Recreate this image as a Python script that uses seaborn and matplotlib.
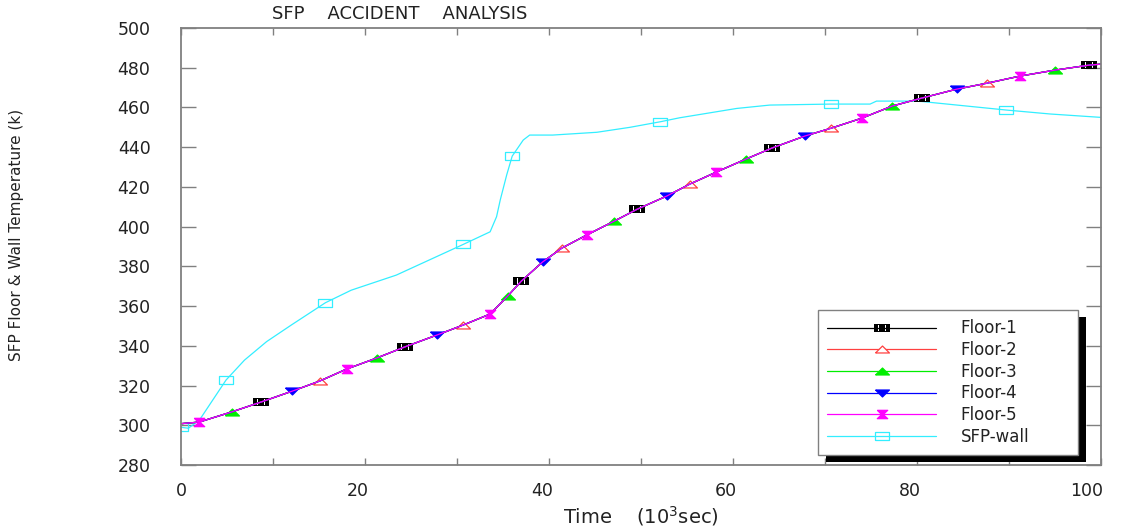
import numpy as np
import pandas as pd
import matplotlib
matplotlib.use("Agg")
import matplotlib.pyplot as plt
import seaborn as sns
from matplotlib.lines import Line2D
from matplotlib.path import Path
from matplotlib.transforms import ScaledTranslation
import matplotlib.patheffects as pe
from matplotlib.ticker import MultipleLocator

# ---------------- data ----------------
time_floor = [0, 1.96, 5.5, 8.7, 12.1, 15.1, 18.0, 21.3, 24.3, 27.8, 30.7, 33.6,
              35.5, 37.0, 39.3, 41.4, 44.1, 47.1, 49.6, 52.8, 55.3, 58.2, 61.4,
              64.2, 67.8, 70.7, 74.0, 77.3, 80.5, 84.3, 87.6, 91.2, 95.0, 98.7, 100]
temp_floor = [300.8, 301.6, 306.7, 311.7, 317.2, 322.3, 328.3, 333.9, 339.4, 345.4,
              350.5, 356.0, 365.0, 372.6, 382.2, 389.2, 395.8, 402.8, 408.8, 415.4,
              421.4, 427.5, 434.0, 439.5, 445.6, 449.6, 454.6, 460.7, 464.7, 469.2,
              472.2, 475.8, 478.8, 481.3, 481.8]
floor_names = ["Floor-1", "Floor-2", "Floor-3", "Floor-4", "Floor-5"]
floor_marker_idx = {
    "Floor-1": [3, 8, 13, 18, 23, 28, 33],
    "Floor-2": [5, 10, 15, 20, 25, 30],
    "Floor-3": [2, 7, 12, 17, 22, 27, 32],
    "Floor-4": [4, 9, 14, 19, 24, 29],
    "Floor-5": [1, 6, 11, 16, 21, 26, 31],
}
wall_name = "SFP-wall"
wall_time = [0, 0.8, 2.0, 4.9, 6.9, 9.3, 12.0, 15.7, 18.5, 23.4, 30.7, 33.6, 34.3,
             34.7, 35.4, 36.0, 37.2, 37.9, 40.4, 45.2, 48.8, 52.1, 54.2, 57.5, 60.4,
             64.0, 70.7, 74.9, 75.6, 79.2, 80.5, 89.7, 94.5, 100]
wall_temp = [299.0, 298.5, 302.6, 322.8, 332.8, 342.1, 350.5, 361.7, 368.0, 375.6,
             391.1, 397.4, 405.0, 413.4, 426.0, 435.5, 443.6, 446.1, 446.1, 447.5,
             450.0, 452.8, 454.8, 457.3, 459.5, 461.2, 461.7, 461.7, 463.2, 463.2,
             463.0, 458.7, 456.7, 455.0]
wall_marker_idx = [0, 3, 7, 10, 15, 21, 26, 31]

x_ticks = [0, 20, 40, 60, 80, 100]
y_ticks = [280, 300, 320, 340, 360, 380, 400, 420, 440, 460, 480, 500]

# ---------------- marker shapes ----------------
def _rect(x0, x1, y0, y1, ccw=True):
    pts = [(x0, y0), (x1, y0), (x1, y1), (x0, y1)]
    if not ccw:
        pts = pts[::-1]
    return pts + [pts[0]]

_verts, _codes = [], []
for poly in [_rect(-1, 1, -0.55, 0.55, True)] + \
            [_rect(cx - 0.06, cx + 0.06, -0.38, 0.38, False) for cx in (-0.45, 0.0, 0.45)]:
    _verts += poly
    _codes += [Path.MOVETO] + [Path.LINETO] * 3 + [Path.CLOSEPOLY]
striped_rect = Path(_verts, _codes)

flat_up = [(-1, -0.5), (1, -0.5), (0, 0.5), (-1, -0.5)]
flat_down = [(-1, 0.5), (1, 0.5), (0, -0.5), (-1, 0.5)]
hour_m = [(-1, 0.8), (1, 0.8), (0.15, 0), (1, -0.8), (-1, -0.8), (-0.15, 0), (-1, 0.8)]
wall_rect = [(-1, -0.57), (1, -0.57), (1, 0.57), (-1, 0.57), (-1, -0.57)]

styles = {
    "Floor-1": dict(color="#000000", marker=striped_rect, ms=11.5, mfc="#000000", mec="#000000", mew=0.0),
    "Floor-2": dict(color="#ff4040", marker=flat_up, ms=10, mfc="white", mec="#ff4040", mew=0.9),
    "Floor-3": dict(color="#00ee00", marker=flat_up, ms=10, mfc="#00ee00", mec="#00ee00", mew=0.9),
    "Floor-4": dict(color="#0000ff", marker=flat_down, ms=10, mfc="#0000ff", mec="#0000ff", mew=0.9),
    "Floor-5": dict(color="#ff00ff", marker=hour_m, ms=7.5, mfc="#ff00ff", mec="#ff00ff", mew=0.9),
    "SFP-wall": dict(color="#33eeff", marker=wall_rect, ms=10, mfc="none", mec="#33eeff", mew=0.9),
}

sns.set_theme(style="white")
plt.rcParams["font.family"] = ["DejaVu Sans"]

fig = plt.figure(figsize=(11.4, 5.3), dpi=100)
ax = fig.add_axes([181 / 1140, 1 - 465 / 530, 920 / 1140, 437 / 530])

df_wall = pd.DataFrame({"t": wall_time, "T": wall_temp})
st = styles[wall_name]
sns.lineplot(data=df_wall, x="t", y="T", ax=ax, color=st["color"], lw=0.9,
             marker=st["marker"], ms=st["ms"], mfc=st["mfc"], mec=st["mec"], mew=st["mew"],
             markevery=wall_marker_idx, legend=False, sort=False)

df_floor = pd.DataFrame({"t": time_floor, "T": temp_floor})
for name in floor_names:
    st = styles[name]
    sns.lineplot(data=df_floor, x="t", y="T", ax=ax, color=st["color"], lw=0.9,
                 marker=st["marker"], ms=st["ms"], mfc=st["mfc"], mec=st["mec"],
                 mew=st["mew"], markevery=floor_marker_idx[name], legend=False, sort=False)

ax.set_xlim(0, 100)
ax.set_ylim(280, 500)
ax.set_xticks(x_ticks)
ax.set_xticklabels([str(v) for v in x_ticks])
ax.set_yticks(y_ticks)
ax.set_yticklabels([str(v) for v in y_ticks])
ax.xaxis.set_minor_locator(MultipleLocator(10))
ax.set_xlabel("")
ax.set_ylabel("")

for s in ax.spines.values():
    s.set_color("#808080")
    s.set_linewidth(1.3)

ax.tick_params(axis="x", which="both", direction="in", top=True, bottom=True,
               length=5, width=1.0, color="#808080", labelsize=12.5, pad=12,
               labelcolor="#222222")
ax.tick_params(axis="y", which="major", direction="in", left=True, right=True,
               length=11, width=1.0, color="#808080", labelsize=12.5, pad=22,
               labelcolor="#222222")
for lab in ax.get_xticklabels():
    n = len(lab.get_text())
    lab.set_transform(lab.get_transform() +
                      ScaledTranslation(-7 * (n - 1) / 100, 0, fig.dpi_scale_trans))

# legend
handles = []
for name in floor_names + [wall_name]:
    st = styles[name]
    handles.append(Line2D([], [], color=st["color"], lw=0.9, marker=st["marker"],
                          ms=st["ms"], mfc=st["mfc"], mec=st["mec"], mew=st["mew"]))
leg = ax.legend(handles, floor_names + [wall_name], loc="lower left",
                bbox_to_anchor=((818 - 181) / 920, (465 - 455) / 437, 260 / 920, 143 / 437),
                mode="expand", borderaxespad=0, fancybox=False,
                frameon=True, fontsize=12, handlelength=6.5, handletextpad=1.5,
                labelspacing=0.22, borderpad=0.56, numpoints=1, framealpha=1)
frame = leg.get_frame()
frame.set_edgecolor("#808080")
frame.set_linewidth(1.0)
frame.set_path_effects([pe.SimplePatchShadow(offset=(5.8, -5.2), shadow_rgbFace="black",
                                             alpha=1.0), pe.Normal()])
for t in leg.get_texts():
    t.set_color("#222222")

fig.text(400 / 1140, 1 - 14 / 530, "SFP    ACCIDENT    ANALYSIS", ha="center", va="center",
         fontsize=13, color="#222222")
fig.text(641 / 1140, 1 - 516 / 530, r"Time    (10$^3$sec)", ha="center", va="center",
         fontsize=14, color="#222222")
fig.text(17 / 1140, 1 - 235 / 530, "SFP Floor & Wall Temperature (k)", rotation=90,
         ha="center", va="center", fontsize=11, color="#222222")

fig.savefig("out.png", dpi=100, facecolor="white")
